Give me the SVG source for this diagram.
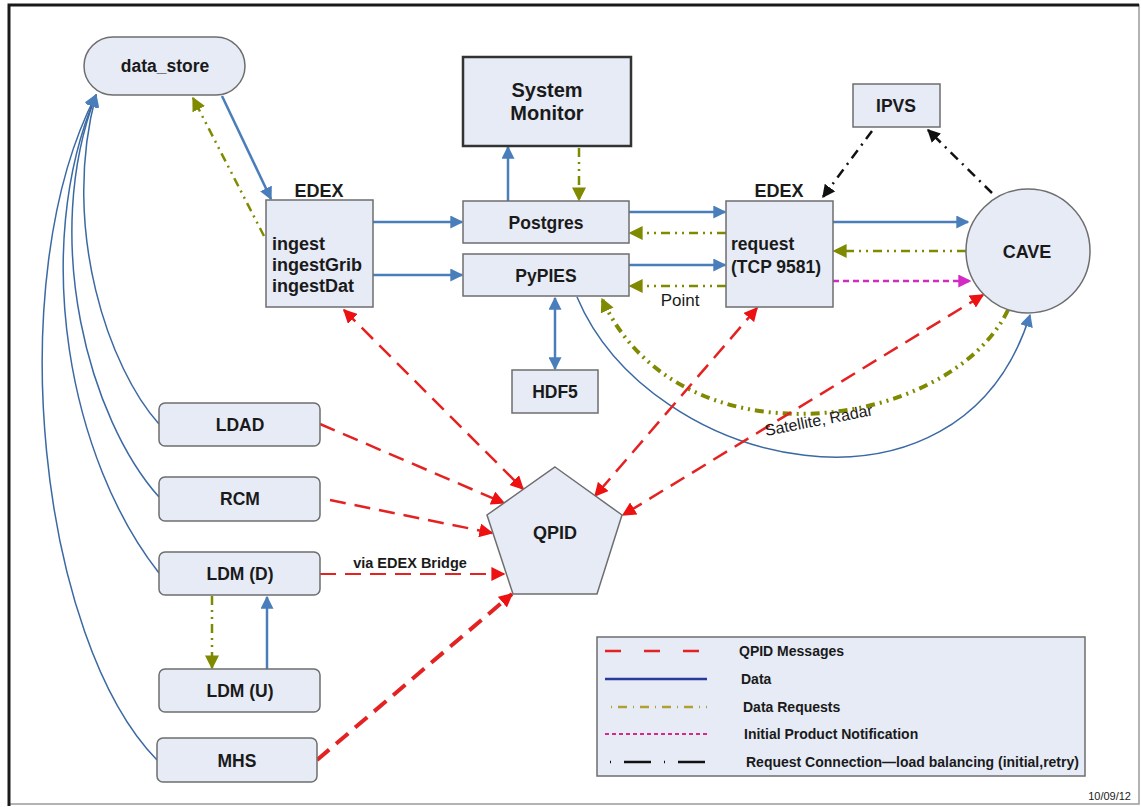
<svg xmlns="http://www.w3.org/2000/svg" width="1141" height="807" viewBox="0 0 1141 807">
<style>
.n{fill:#e6ebf6;stroke:#6e6e6e;stroke-width:1.5}
.t{font-family:"Liberation Sans",Arial,sans-serif;font-weight:bold;fill:#1a1a1a;font-size:17.5px}
.c{text-anchor:middle}
.b{stroke:#4a7ebb;stroke-width:2.5;fill:none}
.bc{stroke:#3b69a3;stroke-width:1.5;fill:none}
.r{stroke:#e42222;stroke-width:2.5;fill:none;stroke-dasharray:16 9}
.o{stroke:#7f8a00;stroke-width:2.5;fill:none;stroke-dasharray:9 5 2 5 2 5}
.m{stroke:#d42ac4;stroke-width:2.5;fill:none;stroke-dasharray:6 4}
.k{stroke:#111;stroke-width:2.5;fill:none;stroke-dasharray:10 6 2 6}
.lg{font-family:"Liberation Sans",Arial,sans-serif;font-weight:bold;fill:#1a1a1a;font-size:14px}
</style>
<defs>
<marker id="ab" viewBox="0 0 10 10" refX="9" refY="5" markerWidth="13" markerHeight="13" markerUnits="userSpaceOnUse" orient="auto-start-reverse"><path d="M0,0 L10,5 L0,10 z" fill="#4a7ebb"/></marker>
<marker id="ar" viewBox="0 0 10 10" refX="9" refY="5" markerWidth="14" markerHeight="14" markerUnits="userSpaceOnUse" orient="auto-start-reverse"><path d="M0,0 L10,5 L0,10 z" fill="#ee1111"/></marker>
<marker id="ao" viewBox="0 0 10 10" refX="9" refY="5" markerWidth="14" markerHeight="14" markerUnits="userSpaceOnUse" orient="auto-start-reverse"><path d="M0,0 L10,5 L0,10 z" fill="#7f8a00"/></marker>
<marker id="am" viewBox="0 0 10 10" refX="9" refY="5" markerWidth="13" markerHeight="13" markerUnits="userSpaceOnUse" orient="auto-start-reverse"><path d="M0,0 L10,5 L0,10 z" fill="#d42ac4"/></marker>
<marker id="ak" viewBox="0 0 10 10" refX="9" refY="5" markerWidth="13" markerHeight="13" markerUnits="userSpaceOnUse" orient="auto-start-reverse"><path d="M0,0 L10,5 L0,10 z" fill="#111"/></marker>
</defs>
<rect x="0" y="0" width="1141" height="807" fill="#fff"/>
<rect x="9" y="5" width="1130" height="799" fill="#fff" stroke="#9a9a9a" stroke-width="1.5"/>
<path d="M9,806 V5 H1139" fill="none" stroke="#1a1a1a" stroke-width="3"/>

<g id="connectors">
<path class="b" d="M222,96 L271,199" marker-end="url(#ab)"/>
<path class="o" d="M264,236 L193,98" marker-end="url(#ao)"/>
<path class="bc" d="M159,424 C110,370 60,230 96,95" marker-end="url(#ab)"/>
<path class="bc" d="M159,497 C90,420 40,240 96,95" marker-end="url(#ab)"/>
<path class="bc" d="M159,573 C70,460 30,250 96,95" marker-end="url(#ab)"/>
<path class="bc" d="M157,760 C40,640 0,280 96,95" marker-end="url(#ab)"/>
<path class="b" d="M373,222 L462,222" marker-end="url(#ab)"/>
<path class="b" d="M373,275 L462,275" marker-end="url(#ab)"/>
<path class="b" d="M508,201 L508,147" marker-end="url(#ab)"/>
<path class="o" d="M579,148 L579,200" marker-end="url(#ao)"/>
<path class="b" d="M629,212 L725,212" marker-end="url(#ab)"/>
<path class="o" d="M726,233 L630,233" marker-end="url(#ao)"/>
<path class="b" d="M629,265 L725,265" marker-end="url(#ab)"/>
<path class="o" d="M726,286 L630,286" marker-end="url(#ao)"/>
<path class="b" d="M833,222 L968,222" marker-end="url(#ab)"/>
<path class="o" d="M966,251 L834,251" marker-end="url(#ao)"/>
<path class="m" d="M833,281 L970,281" marker-end="url(#am)"/>
<path class="k" d="M872,131 L823,197" marker-end="url(#ak)"/>
<path class="k" d="M992,193 L928,130" marker-end="url(#ak)"/>
<path class="b" d="M555,298 L555,369" marker-start="url(#ab)" marker-end="url(#ab)"/>
<path class="bc" d="M577,297 C650,470 960,540 1030,315" marker-end="url(#ab)"/>
<path class="o" d="M1008,310 C950,430 680,470 602,299" style="stroke-width:4" marker-end="url(#ao)"/>
<path class="r" d="M344,310 L523,489" marker-start="url(#ar)" marker-end="url(#ar)"/>
<path class="r" d="M757,308 L595,496" marker-start="url(#ar)" marker-end="url(#ar)"/>
<path class="r" d="M983,295 L623,515" marker-start="url(#ar)" marker-end="url(#ar)"/>
<path class="r" d="M320,424 L504,503" marker-end="url(#ar)"/>
<path class="r" d="M330,500 L492,533" marker-end="url(#ar)"/>
<path class="r" d="M320,574 L504,574" style="stroke-width:2" marker-end="url(#ar)"/>
<path class="r" d="M317,760 L512,594" style="stroke-width:4" marker-end="url(#ar)"/>
<path class="o" d="M212,596 L212,668" marker-end="url(#ao)"/>
<path class="b" d="M267,669 L267,597" marker-end="url(#ab)"/>
<text class="t c" x="410" y="568" style="font-size:14.5px">via EDEX Bridge</text>
<text x="680" y="306" font-family="Liberation Sans,Arial,sans-serif" font-size="17" fill="#1a1a1a" text-anchor="middle">Point</text>
<text x="766" y="436" font-family="Liberation Sans,Arial,sans-serif" font-size="16" fill="#1a1a1a" transform="rotate(-11 766 436)">Satellite, Radar</text>
</g>

<g id="data_store"><rect class="n" x="84" y="37" width="161" height="58" rx="29"/><text class="t c" x="165" y="72">data_store</text></g>
<g id="edex_ingest"><text class="t c" x="319" y="197" style="font-size:18px">EDEX</text><rect class="n" x="266" y="200" width="107" height="107"/><text class="t" x="272" y="250" style="font-size:18px">ingest</text><text class="t" x="272" y="271" style="font-size:18px">ingestGrib</text><text class="t" x="272" y="292" style="font-size:18px">ingestDat</text></g>
<g id="system_monitor"><rect class="n" x="463" y="57" width="168" height="89" style="stroke:#333;stroke-width:2.5"/><text class="t c" x="547" y="97" style="font-size:20px">System</text><text class="t c" x="547" y="120" style="font-size:20px">Monitor</text></g>
<g id="postgres"><rect class="n" x="463" y="201" width="166" height="42"/><text class="t c" x="546" y="229">Postgres</text></g>
<g id="pypies"><rect class="n" x="463" y="254" width="166" height="42"/><text class="t c" x="546" y="282">PyPIES</text></g>
<g id="hdf5"><rect class="n" x="512" y="370" width="86" height="43"/><text class="t c" x="555" y="398">HDF5</text></g>
<g id="edex_request"><text class="t c" x="779" y="197" style="font-size:18px">EDEX</text><rect class="n" x="726" y="201" width="107" height="106"/><text class="t" x="731" y="250" style="font-size:17.5px">request</text><text class="t" x="731" y="273" style="font-size:17.5px">(TCP 9581)</text></g>
<g id="ipvs"><rect class="n" x="853" y="84" width="87" height="43"/><text class="t c" x="896" y="112">IPVS</text></g>
<g id="cave"><circle class="n" cx="1028" cy="251" r="62"/><text class="t c" x="1027" y="258" style="font-size:18px">CAVE</text></g>
<g id="qpid"><polygon class="n" points="555,467 622,515 597,594 513,594 487,515"/><text class="t c" x="555" y="539" style="font-size:18px">QPID</text></g>
<g id="ldad"><rect class="n" x="159" y="403" width="161" height="43" rx="6"/><text class="t c" x="240" y="431">LDAD</text></g>
<g id="rcm"><rect class="n" x="159" y="477" width="161" height="44" rx="6"/><text class="t c" x="240" y="505">RCM</text></g>
<g id="ldm_d"><rect class="n" x="159" y="552" width="161" height="43" rx="6"/><text class="t c" x="240" y="580">LDM (D)</text></g>
<g id="ldm_u"><rect class="n" x="159" y="669" width="161" height="43" rx="6"/><text class="t c" x="240" y="697">LDM (U)</text></g>
<g id="mhs"><rect class="n" x="157" y="738" width="160" height="44" rx="6"/><text class="t c" x="237" y="767">MHS</text></g>

<g id="legend">
<rect x="597" y="637" width="488" height="139" fill="#e6ebf6" stroke="#6e6e6e" stroke-width="1.5"/>
<line x1="605" y1="651" x2="707" y2="651" stroke="#e42222" stroke-width="2.5" stroke-dasharray="16 23"/>
<line x1="605" y1="679" x2="707" y2="679" stroke="#2a3a9a" stroke-width="2.5"/>
<line x1="611" y1="707" x2="707" y2="707" stroke="#b0a030" stroke-width="2.5" stroke-dasharray="1 6 9 6 1 6 9 6"/>
<line x1="605" y1="734" x2="707" y2="734" stroke="#d42a8a" stroke-width="2" stroke-dasharray="4 3"/>
<line x1="610" y1="762" x2="707" y2="762" stroke="#111" stroke-width="2.5" stroke-dasharray="1 13 27 13"/>
<text class="lg" x="739" y="656">QPID Messages</text>
<text class="lg" x="741" y="684">Data</text>
<text class="lg" x="743" y="712">Data Requests</text>
<text class="lg" x="744" y="739">Initial Product Notification</text>
<text class="lg" x="746" y="767">Request Connection—load balancing (initial,retry)</text>
</g>
<text x="1131" y="800" font-family="Liberation Sans,Arial,sans-serif" font-size="11" fill="#1a1a1a" text-anchor="end">10/09/12</text>
</svg>
